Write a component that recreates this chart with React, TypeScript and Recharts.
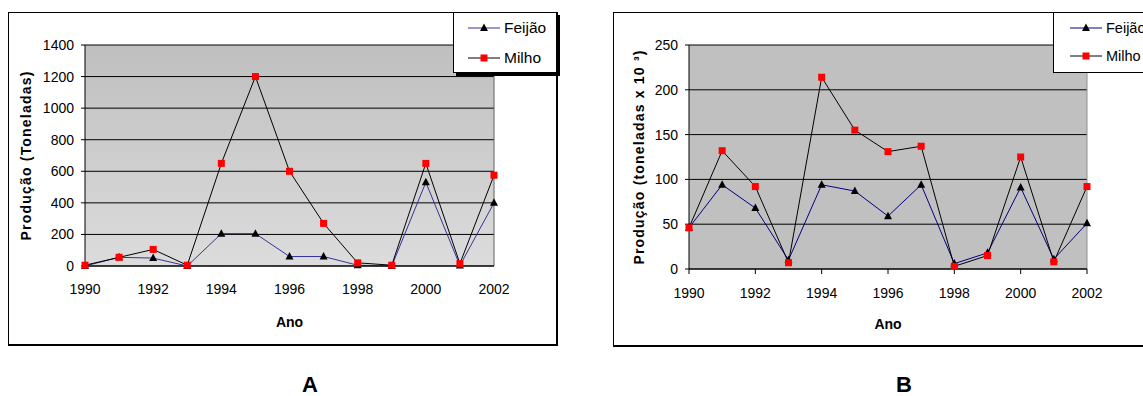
import { LineChart, Line, XAxis, YAxis, CartesianGrid, Legend, ReferenceLine } from 'recharts';

const years = [1990, 1991, 1992, 1993, 1994, 1995, 1996, 1997, 1998, 1999, 2000, 2001, 2002];
const feijaoA = [0, 55, 50, 0, 205, 205, 60, 60, 5, 0, 530, 3, 400];
const milhoA = [5, 55, 105, 5, 650, 1200, 600, 270, 20, 5, 650, 15, 575];
const feijaoB = [46, 94, 68, 10, 94, 87, 59, 94, 6, 18, 91, 11, 51];
const milhoB = [46, 132, 92, 7, 214, 155, 131, 137, 3, 15, 125, 8, 92];

const xTicks = [1990, 1992, 1994, 1996, 1998, 2000, 2002];
const yTicksA = [0, 200, 400, 600, 800, 1000, 1200, 1400];
const yTicksB = [0, 50, 100, 150, 200, 250];

const FONT = '"Liberation Sans", Arial, sans-serif';

const dataA = years.map((year, i) => ({ year, feijao: feijaoA[i], milho: milhoA[i] }));
const dataB = years.map((year, i) => ({ year, feijao: feijaoB[i], milho: milhoB[i] }));

const Triangle = (props: any) => {
  const { cx, cy, index } = props;
  if (cx == null || cy == null) return <g key={`t-${index}`} />;
  return <polygon key={`t-${index}`} points={`${cx},${cy - 4.5} ${cx + 4},${cy + 3} ${cx - 4},${cy + 3}`} fill="#000" />;
};

const Square = (props: any) => {
  const { cx, cy, index } = props;
  if (cx == null || cy == null) return <g key={`s-${index}`} />;
  return <rect key={`s-${index}`} x={cx - 3.5} y={cy - 3.5} width={7} height={7} fill="#ff0000" />;
};

const LegendIcon = ({ line, marker }: { line: string; marker: 'tri' | 'sq' }) => (
  <svg width={32} height={12} style={{ display: 'block' }}>
    <line x1={0} y1={6} x2={32} y2={6} stroke={line} strokeWidth={1} />
    {marker === 'tri'
      ? <polygon points="16,1.5 20,9 12,9" fill="#000" />
      : <rect x={12.5} y={2.5} width={7} height={7} fill="#ff0000" />}
  </svg>
);

const LegendBox = ({ feijaoColor, fontSize, iconX, rows, shadow }: any) => (
  <div style={{
    width: '100%', height: '100%', boxSizing: 'border-box', border: '1px solid #000',
    background: '#fff', boxShadow: shadow ? '3px 3px 0 #000' : 'none', position: 'relative',
    fontFamily: FONT, fontSize, color: '#000'
  }}>
    <div style={{ position: 'absolute', top: rows[0] - 10, left: iconX, height: 20, display: 'flex', alignItems: 'center' }}>
      <LegendIcon line={feijaoColor} marker="tri" />
      <span style={{ marginLeft: 4, whiteSpace: 'nowrap' }}>Feijão</span>
    </div>
    <div style={{ position: 'absolute', top: rows[1] - 10, left: iconX, height: 20, display: 'flex', alignItems: 'center' }}>
      <LegendIcon line="#000" marker="sq" />
      <span style={{ marginLeft: 4, whiteSpace: 'nowrap' }}>Milho</span>
    </div>
  </div>
);

const tickStyle = { fill: '#000', fontSize: 14, fontFamily: FONT };
const titleStyle = { fill: '#000', fontSize: 14, fontWeight: 'bold' as const, fontFamily: FONT };

export default function App() {
  return (
    <div style={{ position: 'absolute', left: 0, top: 0, width: 1143, height: 396, overflow: 'hidden', background: '#fff', fontFamily: FONT }}>
      {/* chart A frame */}
      <div style={{ position: 'absolute', left: 8, top: 12, width: 550, height: 334, boxSizing: 'border-box', borderStyle: 'solid', borderColor: '#000', borderWidth: '1px 2px 2px 1px' }} />
      {/* chart B frame */}
      <div style={{ position: 'absolute', left: 613, top: 12, width: 560, height: 335, boxSizing: 'border-box', borderStyle: 'solid', borderColor: '#000', borderWidth: '1px 2px 2px 1px' }} />

      <div style={{ position: 'absolute', left: 8, top: 12 }}>
        <LineChart width={550} height={334} data={dataA} margin={{ top: 33, right: 64, bottom: 0, left: 0 }}>
          <defs>
            <linearGradient id="bgA" x1="0" y1="0" x2="0" y2="1">
              <stop offset="0%" stopColor="#bfbfbf" />
              <stop offset="100%" stopColor="#dcdcdc" />
            </linearGradient>
          </defs>
          <CartesianGrid vertical={false} stroke="#000" fill="url(#bgA)" fillOpacity={1} />
          <XAxis
            dataKey="year" type="number" domain={[1990, 2002]} ticks={xTicks} interval={0}
            height={80} tickLine={false} tickSize={4} tickMargin={14} axisLine={{ stroke: '#000' }}
            tick={tickStyle}
            label={{ value: 'Ano', position: 'insideBottom', offset: 19, style: titleStyle }}
          />
          <YAxis
            type="number" domain={[0, 1400]} ticks={yTicksA} interval={0} width={77}
            tickSize={4} tickMargin={7} tickLine={{ stroke: '#000' }} axisLine={{ stroke: '#000' }}
            tick={tickStyle}
            label={{ value: 'Produção (Toneladas)', angle: -90, position: 'insideLeft', offset: 18.5, style: { ...titleStyle, textAnchor: 'middle', letterSpacing: 1.2 } }}
          />
          <ReferenceLine x={2002} stroke="#606060" />
          <Line type="linear" dataKey="feijao" name="Feijão" stroke="#333399" strokeWidth={1} dot={Triangle} activeDot={false} isAnimationActive={false} />
          <Line type="linear" dataKey="milho" name="Milho" stroke="#000" strokeWidth={1} dot={Square} activeDot={false} isAnimationActive={false} />
          <Legend
            layout="horizontal" verticalAlign="middle" align="center"
            wrapperStyle={{ position: 'absolute', left: 445, top: 0, width: 104, height: 61 }}
            content={() => <LegendBox feijaoColor="#333399" fontSize={15.5} iconX={14} rows={[15, 45]} shadow />}
          />
        </LineChart>
      </div>

      <div style={{ position: 'absolute', left: 613, top: 12 }}>
        <LineChart width={550} height={335} data={dataB} margin={{ top: 33, right: 76, bottom: 0, left: 0 }}>
          <CartesianGrid vertical={false} stroke="#000" fill="#c0c0c0" fillOpacity={1} />
          <XAxis
            dataKey="year" type="number" domain={[1990, 2002]} ticks={xTicks} interval={0}
            height={78} tickSize={5} tickMargin={14} tickLine={{ stroke: '#000' }} axisLine={{ stroke: '#000' }}
            tick={tickStyle}
            label={{ value: 'Ano', position: 'insideBottom', offset: 18.5, style: titleStyle }}
          />
          <YAxis
            type="number" domain={[0, 250]} ticks={yTicksB} interval={0} width={76}
            tickSize={4} tickMargin={7} tickLine={{ stroke: '#000' }} axisLine={{ stroke: '#000' }}
            tick={tickStyle}
            label={{ value: 'Produção (toneladas x 10 ³)', angle: -90, position: 'insideLeft', offset: 26, style: { ...titleStyle, textAnchor: 'middle', letterSpacing: 1.2 } }}
          />
          <ReferenceLine x={2002} stroke="#909090" />
          <Line type="linear" dataKey="feijao" name="Feijão" stroke="#000080" strokeWidth={1} dot={Triangle} activeDot={false} isAnimationActive={false} />
          <Line type="linear" dataKey="milho" name="Milho" stroke="#000" strokeWidth={1} dot={Square} activeDot={false} isAnimationActive={false} />
          <Legend
            layout="horizontal" verticalAlign="middle" align="center"
            wrapperStyle={{ position: 'absolute', left: 440, top: 0, width: 110, height: 61 }}
            content={() => <LegendBox feijaoColor="#000080" fontSize={14.5} iconX={16} rows={[15, 43]} shadow={false} />}
          />
        </LineChart>
      </div>

      <div style={{ position: 'absolute', left: 290, top: 374, width: 40, textAlign: 'center', fontSize: 22, lineHeight: '22px', fontWeight: 'bold' }}>A</div>
      <div style={{ position: 'absolute', left: 884, top: 374, width: 40, textAlign: 'center', fontSize: 22, lineHeight: '22px', fontWeight: 'bold' }}>B</div>
    </div>
  );
}
